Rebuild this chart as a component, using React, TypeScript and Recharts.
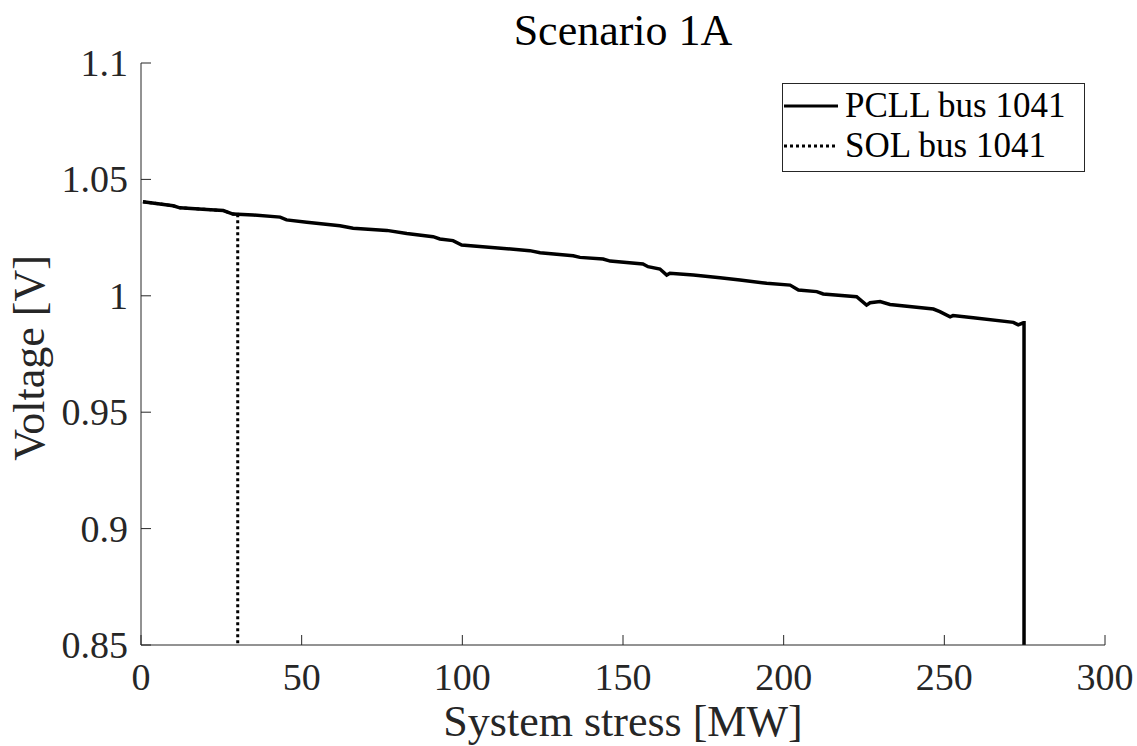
import { Legend, Line, LineChart, XAxis, YAxis } from 'recharts';

// PCLL curve for bus 1041
const pcllStress = [
  0.6, 10, 12.1, 20.4, 25.6, 28.6, 30.1, 34.9, 43.3, 45.3, 51.6, 61.9, 66, 76.5, 82.7, 90.9, 93, 97.1,
  99.8, 121, 124.2, 134.5, 136.6, 143.8, 146, 156.2, 157.8, 161.5, 163.6, 164.6, 171.9, 180.2, 186.4,
  194.7, 202, 204.6, 210.3, 212.3, 222.7, 225.8, 226.9, 230, 233.1, 246.6, 248.6, 251.8, 252.7, 259,
  271.5, 273, 274.6, 274.8, 274.8,
];
const pcllVoltage = [
  1.0404, 1.0387, 1.0378, 1.0371, 1.0366, 1.0351, 1.035, 1.0347, 1.0338, 1.0326, 1.0316, 1.0301, 1.029,
  1.0281, 1.0268, 1.0254, 1.0244, 1.0237, 1.0218, 1.0194, 1.0185, 1.0172, 1.0165, 1.0158, 1.0149,
  1.0137, 1.0125, 1.0115, 1.0089, 1.0097, 1.0089, 1.0078, 1.0068, 1.0054, 1.0046, 1.0025, 1.0018,
  1.0008, 0.9996, 0.996, 0.997, 0.9975, 0.9963, 0.9943, 0.9932, 0.991, 0.9915, 0.9906, 0.9886, 0.9875,
  0.9884, 0.9884, 0.85,
];

// SOL curve follows the same path and collapses at ~30 MW
const solStress = [0.6, 10, 12.1, 20.4, 25.6, 28.6, 30.1, 30.1];
const solVoltage = [1.0404, 1.0387, 1.0378, 1.0371, 1.0366, 1.0351, 1.035, 0.85];

const xTicks = [0, 50, 100, 150, 200, 250, 300];
const yTicks = [0.85, 0.9, 0.95, 1, 1.05, 1.1];
const yTickLabels = ['0.85', '0.9', '0.95', '1', '1.05', '1.1'];

const seriesNames = ['PCLL bus 1041', 'SOL bus 1041'];

const pcllData = pcllStress.map((s, i) => ({ stress: s, voltage: pcllVoltage[i] }));
const solData = solStress.map((s, i) => ({ stress: s, voltage: solVoltage[i] }));

const FONT = '"Liberation Serif", "DejaVu Serif", serif';
const INK = '#262626';

function XTick({ x, y, payload }: any) {
  return (
    <text x={x} y={y} textAnchor="middle" fontFamily={FONT} fontSize={38} fill={INK}>
      {payload.value}
    </text>
  );
}

function YTick({ x, y, payload }: any) {
  const idx = yTicks.indexOf(payload.value);
  return (
    <text x={x} y={y + 13} textAnchor="end" fontFamily={FONT} fontSize={38} fill={INK}>
      {idx >= 0 ? yTickLabels[idx] : payload.value}
    </text>
  );
}

function LegendBox() {
  const row = (name: string, dashed: boolean) => (
    <div key={name} style={{ display: 'flex', alignItems: 'center', height: 40 }}>
      <svg width={56} height={10} style={{ marginRight: 6 }}>
        <line
          x1={1}
          y1={5}
          x2={55}
          y2={5}
          stroke="#000"
          strokeWidth={3}
          strokeDasharray={dashed ? '3 3' : undefined}
        />
      </svg>
      <span>{name}</span>
    </div>
  );
  return (
    <div
      style={{
        width: 301,
        height: 85,
        border: `1px solid ${INK}`,
        background: '#fff',
        fontFamily: FONT,
        fontSize: 35,
        color: '#000',
        boxSizing: 'content-box',
        paddingTop: 2,
        lineHeight: '40px',
      }}
    >
      {row(seriesNames[0], false)}
      {row(seriesNames[1], true)}
    </div>
  );
}

export default function App() {
  return (
    <div style={{ position: 'absolute', left: 0, top: 0, width: 1137, height: 746, background: '#fff' }}>
      <div
        style={{
          position: 'absolute',
          left: 141,
          width: 964,
          top: 6,
          textAlign: 'center',
          fontFamily: FONT,
          fontSize: 44,
          lineHeight: '50px',
          color: '#000',
        }}
      >
        Scenario 1A
      </div>
      <LineChart width={1137} height={746} margin={{ top: 63, right: 32, left: 0, bottom: 0 }}>
        <XAxis
          xAxisId="bottom"
          dataKey="stress"
          type="number"
          domain={[0, 300]}
          ticks={xTicks}
          interval={0}
          allowDataOverflow
          height={101}
          stroke={INK}
          tickSize={-10}
          tickMargin={55}
          tick={<XTick />}
          label={{
            content: () => (
              <text x={623} y={736} textAnchor="middle" fontFamily={FONT} fontSize={44} fill={INK}>
                System stress [MW]
              </text>
            ),
          }}
        />
        <XAxis
          xAxisId="top"
          orientation="top"
          type="number"
          domain={[0, 300]}
          ticks={xTicks}
          interval={0}
          allowDataOverflow
          height={0}
          stroke={INK}
          tickSize={-10}
          tick={false}
        />
        <YAxis
          yAxisId="left"
          dataKey="voltage"
          type="number"
          domain={[0.85, 1.1]}
          ticks={yTicks}
          interval={0}
          allowDataOverflow
          width={141}
          stroke={INK}
          tickSize={-10}
          tickMargin={23}
          tick={<YTick />}
          label={{
            content: () => (
              <text
                x={44}
                y={358}
                transform="rotate(-90 44 358)"
                textAnchor="middle"
                fontFamily={FONT}
                fontSize={44}
                fill={INK}
              >
                Voltage [V]
              </text>
            ),
          }}
        />
        <YAxis
          yAxisId="right"
          orientation="right"
          type="number"
          domain={[0.85, 1.1]}
          ticks={yTicks}
          interval={0}
          allowDataOverflow
          width={0}
          stroke={INK}
          tickSize={-10}
          tick={false}
        />
        <Legend
          layout="horizontal"
          verticalAlign="middle"
          align="center"
          content={() => <LegendBox />}
          wrapperStyle={{ position: 'absolute', left: 782, top: 83, width: 303, height: 88 }}
        />
        <Line
          xAxisId="bottom"
          yAxisId="left"
          data={pcllData}
          dataKey="voltage"
          name={seriesNames[0]}
          type="linear"
          stroke="#000"
          strokeWidth={3.5}
          dot={false}
          activeDot={false}
          isAnimationActive={false}
        />
        <Line
          xAxisId="bottom"
          yAxisId="left"
          data={solData}
          dataKey="voltage"
          name={seriesNames[1]}
          type="linear"
          stroke="#000"
          strokeWidth={3}
          strokeDasharray="3 3"
          dot={false}
          activeDot={false}
          isAnimationActive={false}
        />
      </LineChart>
    </div>
  );
}
